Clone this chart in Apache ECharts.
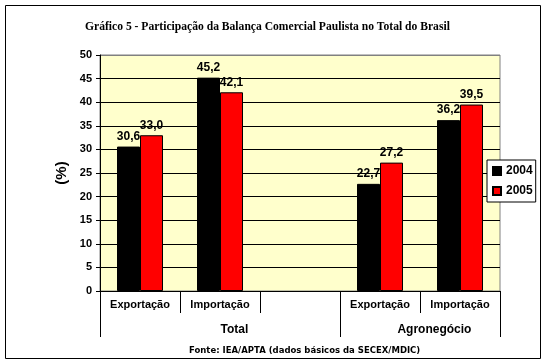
<!DOCTYPE html>
<html><head><meta charset="utf-8">
<script src="https://cdn.jsdelivr.net/npm/echarts@6/dist/echarts.min.js"></script>
<style>html,body{margin:0;padding:0;background:#fff}#c{width:547px;height:364px}</style>
</head><body><div id="c"></div>
<script>
const categories = ['Exportação', 'Importação', '', 'Exportação', 'Importação'];
const groupNames = ['Total', 'Agronegócio'];
const groupBounds = [0, 3, 5];
const seriesNames = ['2004', '2005'];
const values2004 = [30.6, 45.2, null, 22.7, 36.2];
const values2005 = [33.0, 42.1, null, 27.2, 39.5];
const yTicks = [0, 5, 10, 15, 20, 25, 30, 35, 40, 45, 50];

const groupLabelPos = groupNames.map((n, i) => (groupBounds[i] + groupBounds[i + 1]) / 2 + 0.18);
const sans = 'Liberation Sans, Arial, sans-serif';
const fmt = p => p.value == null ? '' : p.value.toFixed(1).replace('.', ',');

const chart = echarts.init(document.getElementById('c'), null, {renderer: 'canvas'});
const splitColors = yTicks.map((v, i) => i === yTicks.length - 1 ? '#808080' : '#000');

chart.setOption({
  animation: false,
  backgroundColor: '#fff',
  title: [{
    text: 'Gráfico 5 - Participação da Balança Comercial Paulista no Total do Brasil',
    left: 80, top: 16,
    textStyle: {fontFamily: 'Liberation Serif, Times New Roman, serif', fontWeight: 'bold', fontSize: 11.6, color: '#000'}
  }, {
    text: 'Fonte: IEA/APTA (dados básicos da SECEX/MDIC)',
    left: 184, top: 341,
    textStyle: {fontFamily: 'DejaVu Sans, sans-serif', fontWeight: 'bold', fontSize: 8.5, color: '#000'}
  }],
  legend: {
    orient: 'vertical', left: 487, top: 160,
    itemWidth: 8, itemHeight: 8, itemGap: 8,
    padding: [5, 3, 5, 5],
    backgroundColor: '#fff', borderColor: '#000', borderWidth: 1, borderRadius: 0,
    icon: 'rect',
    textStyle: {fontFamily: sans, fontWeight: 'bold', fontSize: 12, color: '#000'},
    data: seriesNames
  },
  grid: {left: 100, right: 47, top: 55, bottom: 73, show: true, backgroundColor: '#FFFFCC', borderColor: '#808080', borderWidth: 1},
  xAxis: [{
    type: 'category', data: categories, position: 'bottom',
    axisLine: {lineStyle: {color: '#000', width: 1}},
    axisTick: {show: true, length: 22, interval: 0, lineStyle: {color: '#000'}},
    axisLabel: {interval: 0, margin: 8, fontFamily: sans, fontWeight: 'bold', fontSize: 11, color: '#000'}
  }, {
    type: 'value', min: groupBounds[0], max: groupBounds[groupBounds.length - 1], position: 'bottom', offset: 22,
    axisLine: {show: false},
    axisTick: {show: true, length: 24, customValues: groupBounds, lineStyle: {color: '#000'}},
    axisLabel: {
      show: true, margin: 11, customValues: groupLabelPos,
      formatter: v => { const i = groupLabelPos.findIndex(p => Math.abs(p - v) < 1e-6); return i >= 0 ? groupNames[i] : ''; },
      fontFamily: sans, fontWeight: 'bold', fontSize: 12, color: '#000'
    },
    splitLine: {show: false}
  }],
  yAxis: {
    type: 'value', min: 0, max: 50, interval: 5,
    name: '(%)', nameLocation: 'middle', nameGap: 31, nameRotate: 90,
    nameTextStyle: {fontFamily: sans, fontWeight: 'bold', fontSize: 15, color: '#000'},
    axisLine: {show: true, lineStyle: {color: '#000'}},
    axisTick: {show: true, length: 4, lineStyle: {color: '#000'}},
    axisLabel: {margin: 8, fontFamily: sans, fontWeight: 'bold', fontSize: 11, color: '#000'},
    splitLine: {show: true, lineStyle: {color: splitColors, width: 1}}
  },
  series: [{
    name: seriesNames[0], type: 'bar', data: values2004, xAxisIndex: 0,
    barWidth: 23, barGap: '0%',
    itemStyle: {color: '#000', borderColor: '#000', borderWidth: 1},
    label: {show: true, position: 'top', distance: 4, formatter: fmt, fontFamily: sans, fontWeight: 'bold', fontSize: 12, color: '#000'}
  }, {
    name: seriesNames[1], type: 'bar', data: values2005, xAxisIndex: 0,
    barWidth: 23, barGap: '0%',
    itemStyle: {color: '#FF0000', borderColor: '#000', borderWidth: 1},
    label: {show: true, position: 'top', distance: 4, formatter: fmt, fontFamily: sans, fontWeight: 'bold', fontSize: 12, color: '#000'}
  }],
  graphic: [{
    type: 'rect', silent: true, z: 100,
    shape: {x: 5.5, y: 5.5, width: 535, height: 353},
    style: {fill: 'none', stroke: '#000', lineWidth: 1}
  }]
});
</script></body></html>
